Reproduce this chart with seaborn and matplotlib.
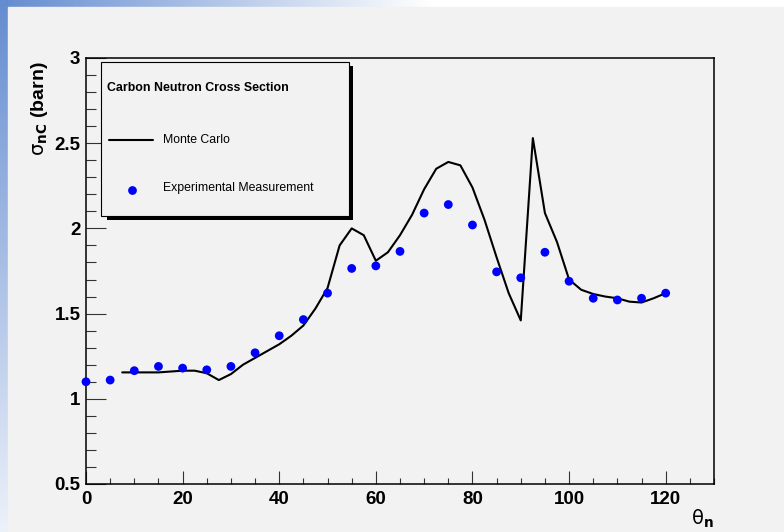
import numpy as np
import pandas as pd
import seaborn as sns
import matplotlib.pyplot as plt
from matplotlib.patches import Rectangle
from matplotlib.lines import Line2D
from matplotlib.ticker import MultipleLocator

# experimental points
exp_angle = [0, 5, 10, 15, 20, 25, 30, 35, 40, 45, 50, 55, 60,
             65, 70, 75, 80, 85, 90, 95, 100, 105, 110, 115, 120]
exp_sigma = [1.10, 1.11, 1.165, 1.19, 1.18, 1.17, 1.19, 1.27, 1.37, 1.465, 1.62, 1.765, 1.78,
             1.865, 2.09, 2.14, 2.02, 1.745, 1.71, 1.86, 1.69, 1.59, 1.58, 1.59, 1.62]

# monte carlo curve
mc_angle = [7.5, 10, 12.5, 15, 17.5, 20, 22.5, 25, 27.5, 30, 32.5, 35, 37.5, 40,
            42.5, 45, 47.5, 50, 52.5, 55, 57.5, 60, 62.5, 65, 67.5, 70, 72.5, 75,
            77.5, 80, 82.5, 85, 87.5, 90, 92.5, 95, 97.5, 100, 102.5, 105, 107.5,
            110, 112.5, 115, 117.5, 120]
mc_sigma = [1.155, 1.155, 1.155, 1.155, 1.16, 1.165, 1.165, 1.15, 1.11, 1.145, 1.2, 1.24, 1.28, 1.32,
            1.37, 1.43, 1.53, 1.65, 1.9, 2.0, 1.96, 1.81, 1.86, 1.96, 2.08, 2.23, 2.35, 2.39,
            2.37, 2.24, 2.05, 1.83, 1.62, 1.46, 2.53, 2.09, 1.92, 1.70, 1.64, 1.615, 1.60,
            1.59, 1.57, 1.565, 1.59, 1.62]

exp_df = pd.DataFrame({"angle": exp_angle, "sigma": exp_sigma})
mc_df = pd.DataFrame({"angle": mc_angle, "sigma": mc_sigma})

sns.set_style("ticks")
plt.rcParams["font.family"] = ["Liberation Sans", "DejaVu Sans"]
plt.rcParams["mathtext.fontset"] = "dejavusans"
plt.rcParams["text.color"] = "black"
plt.rcParams["xtick.color"] = "black"
plt.rcParams["ytick.color"] = "black"

W, H = 784, 532
fig = plt.figure(figsize=(W / 100, H / 100), dpi=100)
fig.patch.set_facecolor("white")


def fx(px):
    return px / W


def fy(py):
    return 1 - py / H


# slide background: blue gradient strips on left and top
bg = fig.add_axes([0, 0, 1, 1], zorder=-10)
yy, xx = np.mgrid[0:H, 0:W]
w = np.where(xx < 8, np.clip(1 - yy / 600, 0, 1), np.clip(1 - xx / 430, 0, 1))
blue = np.array([100, 140, 208]) / 255
img = (1 - w[..., None]) * 1.0 + w[..., None] * blue
bg.imshow(img, extent=[0, W, H, 0], aspect="auto")
bg.add_patch(Rectangle((8, 7), W - 8, H - 7, color="#f2f2f2"))
bg.set_xlim(0, W)
bg.set_ylim(H, 0)
bg.axis("off")

ax = fig.add_axes([fx(86), fy(484), fx(714) - fx(86), fy(58) - fy(484)])
ax.set_facecolor("#f2f2f2")

sns.lineplot(data=mc_df, x="angle", y="sigma", color="black", linewidth=1.5, ax=ax)
sns.scatterplot(data=exp_df, x="angle", y="sigma", color="#0000ff", s=40,
                edgecolor="none", ax=ax, zorder=3, clip_on=False)

ax.set_xlim(0, 130)
ax.set_ylim(0.5, 3)
ax.set_xlabel("")
ax.set_ylabel("")
ax.xaxis.set_major_locator(MultipleLocator(20))
ax.xaxis.set_minor_locator(MultipleLocator(5))
ax.yaxis.set_minor_locator(MultipleLocator(0.1))
ax.set_yticks([0.5, 1, 1.5, 2, 2.5, 3])
ax.set_yticklabels(["0.5", "1", "1.5", "2", "2.5", "3"])
ax.tick_params(axis="x", which="major", direction="in", length=9.5, width=0.8, pad=5,
               labelsize=13.5, color="#333333", labelcolor="black")
ax.tick_params(axis="x", which="minor", direction="in", length=4.5, width=0.8, color="#333333")
ax.tick_params(axis="y", which="major", direction="in", length=14.5, width=0.8, pad=4,
               labelsize=13.5, color="#333333", labelcolor="black")
ax.tick_params(axis="y", which="minor", direction="in", length=7, width=0.8, color="#333333")
for lab in ax.get_xticklabels() + ax.get_yticklabels():
    lab.set_fontweight("bold")
for sp in ax.spines.values():
    sp.set_visible(True)
    sp.set_color("black")
    sp.set_linewidth(1.1)

# axis titles (ROOT style)
fig.text(fx(40), fy(61), r"$\mathrm{\sigma}_{\mathbf{nC}}$ (barn)", rotation=90, ha="center", va="top",
         fontsize=14, fontweight="bold", color="black")
fig.text(fx(702), fy(519), r"$\mathrm{\theta}_{\mathbf{n}}$", ha="center", va="center",
         fontsize=14, color="black")

# legend box with shadow
fig.add_artist(Rectangle((fx(107), fy(220)), fx(353) - fx(107), fy(66) - fy(220),
                         transform=fig.transFigure, facecolor="black", edgecolor="none", zorder=5))
fig.add_artist(Rectangle((fx(101), fy(216)), fx(349) - fx(101), fy(62) - fy(216),
                         transform=fig.transFigure, facecolor="#f2f2f2", edgecolor="black",
                         linewidth=0.8, zorder=6))
fig.text(fx(107), fy(88), "Carbon Neutron Cross Section", ha="left", va="center",
         fontsize=8.9, fontweight="bold", color="black", zorder=7)
fig.add_artist(Line2D([fx(109), fx(153)], [fy(140), fy(140)], transform=fig.transFigure,
                      color="black", linewidth=1.5, zorder=7))
fig.text(fx(163), fy(140), "Monte Carlo", ha="left", va="center", fontsize=8.8,
         color="black", zorder=7)
fig.add_artist(Line2D([fx(131.5)], [fy(189.5)], transform=fig.transFigure, marker="o",
                      markersize=6.3, color="#0000ff", markeredgewidth=0, linestyle="none", zorder=7))
fig.text(fx(163), fy(188), "Experimental Measurement", ha="left", va="center", fontsize=8.8,
         color="black", zorder=7)

fig.savefig("out.png", dpi=100)
